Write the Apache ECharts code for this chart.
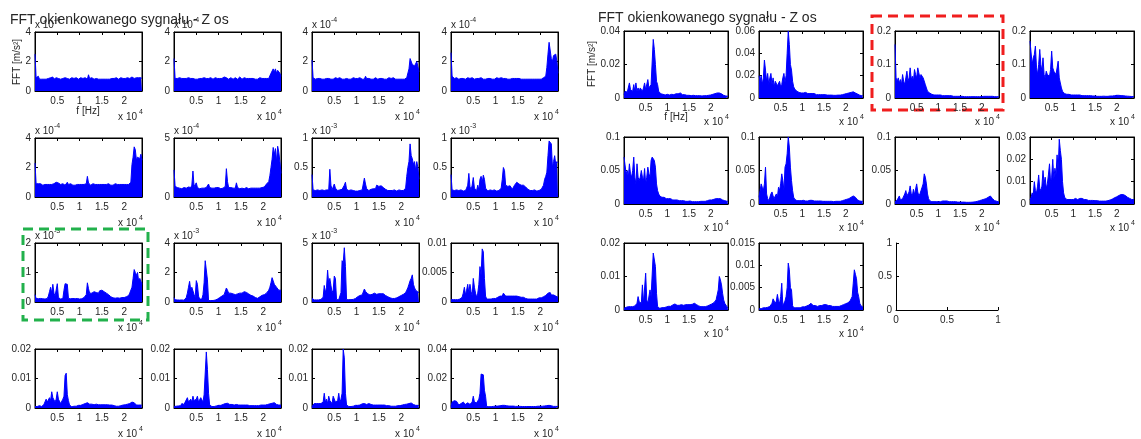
<!DOCTYPE html>
<html><head><meta charset="utf-8">
<script src="https://cdn.jsdelivr.net/npm/echarts@6/dist/echarts.min.js"></script>
<style>html,body{margin:0;padding:0;background:#fff}#c{width:1141px;height:439px}</style>
</head><body><div id="c"></div>
<script>
// ---- sampling grid of every spectrum (Hz) ----
const FREQ_STEP = 250;
const F_MAX = 24000;
const TITLE = 'FFT okienkowanego sygnału - Z os';
const Y_LABEL = 'FFT [m/s²]';
const X_LABEL = 'f [Hz]';

// ---- left figure spectra (values in the units shown on each y axis) ----
const L1 = [2.5,0.9,0.8,1.0,0.8,0.85,0.8,0.9,0.8,0.85,
0.8,0.9,0.85,0.8,0.9,0.85,0.95,0.8,0.85,0.9,
0.8,0.85,0.95,0.8,0.9,0.85,0.8,0.9,0.8,0.85,
0.9,0.8,0.85,0.9,0.8,0.85,0.8,0.9,0.85,0.8,
0.85,0.9,0.8,0.85,0.8,0.9,0.85,0.8,1.1,0.85,
0.8,0.9,0.85,0.8,0.8,0.85,0.9,0.8,0.85,0.8,
0.85,0.8,0.9,0.8,0.85,0.8,0.85,0.8,0.9,0.85,
0.8,0.85,0.8,0.9,0.85,0.8,0.85,0.9,0.8,0.85,
0.9,0.85,0.8,0.9,0.95,0.85,0.9,0.95,0.9,0.85,
0.95,0.9,0.95,0.9,0.95,0.9,0.85];
const L2 = [2.2,0.85,0.8,0.85,0.8,0.9,0.8,0.85,0.8,0.85,
0.8,0.85,0.8,0.9,0.8,0.85,0.8,0.85,0.9,0.8,
0.85,0.8,0.9,0.85,0.8,0.85,0.8,0.9,0.8,0.85,
0.8,0.85,0.8,0.9,0.85,0.8,0.85,0.9,0.8,0.85,
0.9,0.85,0.8,0.85,0.9,0.95,0.85,0.9,0.85,0.8,
0.85,0.9,0.85,0.8,0.85,0.9,0.85,0.8,0.85,0.95,
0.85,0.8,0.85,0.9,0.95,0.85,0.8,0.85,0.8,0.85,
0.8,0.85,0.9,0.8,0.85,0.8,0.85,0.9,0.8,0.85,
0.8,0.85,0.9,0.85,0.8,0.85,0.9,1.2,1.3,1.5,
1.3,1.5,1.2,1.4,1.5,1.2,1.0];
const L3 = [2.1,0.9,0.85,0.8,0.9,0.85,0.8,0.85,0.9,0.8,
0.85,0.8,0.9,0.85,0.8,0.85,0.9,0.8,0.85,0.8,
0.85,0.9,0.8,0.85,0.8,0.9,0.85,0.8,0.85,0.8,
0.8,0.85,0.9,0.8,0.85,0.8,0.85,0.9,0.8,0.85,
0.8,0.85,0.8,0.9,0.85,0.8,0.85,0.8,1.0,0.85,
0.8,0.85,0.9,0.8,0.85,0.8,0.85,0.9,0.85,0.8,
0.9,0.85,0.8,0.85,0.9,0.8,0.85,0.8,0.85,0.9,
0.8,0.85,0.8,0.9,0.85,0.8,0.85,0.8,0.85,0.8,
0.85,0.8,0.85,0.8,0.85,0.9,0.85,1.5,2.2,2.1,
1.8,1.9,1.7,1.8,2.0,2.0,1.3];
const L4 = [2.6,1.0,0.9,0.85,0.8,0.9,0.85,0.8,0.9,0.85,
0.8,0.85,0.9,0.8,0.85,0.9,0.8,0.85,0.8,0.9,
0.85,0.8,0.9,0.85,0.8,0.85,0.8,0.9,0.85,0.8,
0.85,0.8,0.9,0.85,0.8,0.85,0.9,0.8,0.85,0.8,
0.85,0.9,0.8,0.85,0.8,0.9,1.0,0.85,0.8,0.85,
0.9,0.8,0.85,0.8,0.9,0.85,0.8,0.85,0.8,0.85,
0.8,0.85,0.9,0.8,0.85,0.8,0.85,0.8,0.85,0.8,
0.85,0.8,0.85,0.8,0.85,0.8,0.85,0.8,0.85,0.8,
0.85,0.8,0.85,0.9,0.9,1.0,1.6,2.5,3.3,3.2,
2.2,2.0,2.4,2.5,2.5,2.0,1.2];
const L5 = [2.3,0.9,0.85,0.9,0.85,0.9,0.85,0.8,0.9,0.85,
0.9,0.85,0.8,0.85,0.9,0.85,0.8,0.9,0.85,1.0,
1.1,0.95,0.9,0.85,0.8,0.9,0.85,0.8,0.9,1.0,
0.85,0.8,0.9,0.85,0.8,0.85,0.8,0.9,0.85,0.8,
0.85,0.8,0.85,0.8,0.85,0.8,0.9,1.4,0.95,0.85,
0.8,0.85,0.9,0.95,0.85,0.9,0.85,0.9,0.85,0.8,
0.85,0.9,0.85,0.8,0.85,0.8,0.9,0.85,0.8,0.85,
0.8,0.85,0.9,0.8,0.85,0.8,0.85,0.8,0.85,0.8,
0.85,0.8,0.85,0.8,0.85,0.9,1.0,2.2,2.7,3.4,
3.2,2.5,2.7,2.8,2.6,2.9,2.5];
const L6 = [2.3,0.9,0.75,0.8,0.7,0.75,0.8,0.7,0.75,0.8,
0.7,0.75,0.8,0.85,0.75,0.8,1.0,2.2,0.9,0.75,
1.2,0.8,0.75,0.7,0.8,0.75,0.8,0.75,0.7,0.8,
0.75,1.1,0.8,0.7,0.75,0.8,0.75,0.7,0.8,0.75,
0.8,0.75,0.7,0.8,0.75,0.85,0.9,2.4,1.3,0.8,
0.75,0.8,0.7,0.75,0.8,0.75,1.2,0.8,0.75,0.7,
0.8,0.75,0.8,0.7,0.75,0.8,0.75,0.7,0.8,0.75,
0.8,0.75,0.7,0.75,0.8,0.75,0.8,0.75,0.85,0.8,
0.9,0.85,0.9,1.1,1.0,1.3,1.8,2.5,3.2,4.2,
3.6,4.1,3.0,4.3,3.8,3.0,2.0];
const L7 = [0.38,0.12,0.1,0.11,0.1,0.12,0.1,0.11,0.1,0.12,
0.1,0.11,0.1,0.12,0.15,0.12,0.47,0.2,0.12,0.11,
0.22,0.15,0.12,0.11,0.1,0.12,0.11,0.13,0.15,0.2,
0.25,0.13,0.1,0.11,0.1,0.12,0.1,0.11,0.1,0.1,
0.11,0.1,0.12,0.11,0.1,0.12,0.15,0.32,0.22,0.14,
0.12,0.11,0.12,0.13,0.12,0.14,0.15,0.14,0.2,0.17,
0.18,0.2,0.19,0.2,0.16,0.15,0.13,0.12,0.11,0.1,
0.11,0.1,0.11,0.1,0.12,0.11,0.1,0.11,0.12,0.1,
0.11,0.12,0.11,0.12,0.15,0.35,0.5,0.6,0.9,0.7,
0.65,0.55,0.6,0.45,0.6,0.5,0.3];
const L8 = [0.38,0.12,0.15,0.11,0.1,0.12,0.1,0.11,0.1,0.12,
0.11,0.1,0.12,0.11,0.15,0.2,0.4,0.18,0.12,0.2,
0.33,0.15,0.12,0.11,0.2,0.12,0.3,0.35,0.25,0.37,
0.3,0.15,0.12,0.1,0.11,0.12,0.1,0.11,0.1,0.12,
0.11,0.1,0.12,0.11,0.12,0.15,0.3,0.5,0.45,0.2,
0.19,0.18,0.18,0.19,0.18,0.13,0.15,0.2,0.22,0.25,
0.28,0.22,0.25,0.2,0.21,0.2,0.18,0.17,0.15,0.13,
0.12,0.11,0.12,0.11,0.1,0.12,0.11,0.1,0.12,0.11,
0.12,0.13,0.15,0.2,0.3,0.35,0.42,0.7,0.95,0.95,
0.9,0.5,0.6,0.7,0.55,0.6,0.58];
const L9 = [0.25,0.12,0.1,0.11,0.1,0.12,0.1,0.11,0.12,0.1,
0.11,0.12,0.2,0.35,0.5,0.3,0.6,0.3,0.2,0.15,
0.62,0.15,0.12,0.1,0.11,0.12,0.4,0.62,0.6,0.6,
0.12,0.1,0.11,0.1,0.12,0.1,0.11,0.1,0.12,0.11,
0.1,0.12,0.11,0.12,0.15,0.2,0.25,0.65,0.45,0.3,
0.35,0.3,0.33,0.35,0.3,0.32,0.35,0.3,0.38,0.35,
0.4,0.38,0.35,0.3,0.3,0.28,0.25,0.2,0.18,0.15,
0.14,0.15,0.13,0.15,0.14,0.15,0.13,0.14,0.15,0.16,
0.15,0.16,0.18,0.2,0.22,0.3,0.35,0.5,0.8,1.1,
1.0,0.9,1.0,0.7,0.8,0.7,0.6];
const L10 = [0.3,0.15,0.12,0.14,0.12,0.13,0.12,0.14,0.13,0.12,
0.15,0.3,0.6,1.0,1.4,0.8,1.0,1.0,0.5,0.3,
1.45,1.2,0.4,0.2,0.15,0.2,0.5,1.3,2.8,2.7,
1.5,0.1,0.12,0.1,0.12,0.1,0.12,0.13,0.15,0.2,
0.25,0.3,0.35,0.4,0.45,0.5,0.6,0.95,0.8,0.6,
0.55,0.6,0.5,0.55,0.6,0.5,0.6,0.55,0.65,0.6,
0.65,0.6,0.65,0.7,0.6,0.65,0.6,0.55,0.5,0.45,
0.45,0.4,0.35,0.3,0.3,0.25,0.3,0.35,0.4,0.45,
0.45,0.5,0.55,0.6,0.7,0.8,1.0,1.3,1.65,1.6,
1.2,1.1,1.0,0.9,0.8,0.9,0.8];
const L11 = [0.3,0.2,0.18,0.2,0.18,0.2,0.18,0.2,0.22,0.25,
0.4,1.4,0.8,1.2,2.7,1.5,2.0,1.4,0.8,1.0,
2.2,2.0,0.2,0.18,0.2,0.3,0.8,3.5,3.3,4.6,
3.0,0.2,0.18,0.2,0.18,0.2,0.2,0.22,0.25,0.3,
0.4,0.45,0.5,0.55,0.5,0.6,0.7,1.1,0.9,0.85,
0.7,0.65,0.6,0.7,0.65,0.7,0.75,0.7,0.65,0.8,
0.7,0.75,0.7,0.65,0.7,0.6,0.55,0.5,0.45,0.4,
0.35,0.3,0.3,0.28,0.3,0.3,0.35,0.4,0.45,0.5,
0.55,0.6,0.65,0.7,0.8,1.0,1.2,1.5,1.8,2.0,
2.3,1.5,1.2,1.0,0.9,0.85,0.8];
const L12 = [0.0004,0.0003,0.0004,0.0003,0.0004,0.0005,0.0004,0.0006,0.0005,0.0006,
0.0008,0.0015,0.0025,0.0012,0.002,0.003,0.0015,0.003,0.0018,0.001,
0.004,0.0025,0.0015,0.0008,0.0015,0.003,0.006,0.0045,0.009,0.0085,
0.004,0.001,0.0005,0.0004,0.0005,0.0004,0.0005,0.0004,0.0006,0.0005,
0.0006,0.0007,0.0008,0.0009,0.001,0.0009,0.001,0.0015,0.0012,0.001,
0.0009,0.001,0.0011,0.001,0.0009,0.001,0.0011,0.001,0.0009,0.001,
0.001,0.0009,0.001,0.0008,0.0009,0.0008,0.0007,0.0006,0.0005,0.0005,
0.0004,0.0005,0.0004,0.0005,0.0004,0.0005,0.0006,0.0005,0.0006,0.0007,
0.0006,0.0007,0.0008,0.0009,0.001,0.0011,0.0012,0.0015,0.0018,0.0016,
0.0012,0.001,0.0012,0.0009,0.001,0.0008,0.0008];
const L13 = [0.0005,0.0006,0.0005,0.0006,0.0008,0.0006,0.0005,0.001,0.0012,0.0015,
0.003,0.002,0.0025,0.0035,0.0025,0.0055,0.0035,0.004,0.002,0.003,
0.0055,0.003,0.0035,0.0015,0.002,0.003,0.004,0.011,0.0118,0.0045,
0.0025,0.001,0.0005,0.0004,0.0005,0.0006,0.0005,0.0006,0.0008,0.0009,
0.001,0.0009,0.001,0.0012,0.0011,0.0015,0.002,0.0018,0.0015,0.0013,
0.0012,0.0013,0.0012,0.0011,0.0012,0.0013,0.0012,0.0011,0.0012,0.0011,
0.0012,0.0011,0.001,0.0011,0.001,0.0011,0.0012,0.001,0.0011,0.001,
0.0009,0.0008,0.0007,0.0006,0.0007,0.0006,0.0007,0.0008,0.0009,0.001,
0.001,0.0011,0.0012,0.0013,0.0014,0.0015,0.0017,0.002,0.0022,0.0018,
0.0012,0.001,0.0011,0.001,0.0009,0.001,0.0009];
const L14 = [0.0005,0.0008,0.0006,0.0005,0.0007,0.0006,0.0008,0.0015,0.001,0.0012,
0.002,0.0015,0.0035,0.002,0.0015,0.003,0.002,0.004,0.0025,0.002,
0.003,0.004,0.002,0.0015,0.0035,0.004,0.002,0.0045,0.004,0.019,
0.013,0.005,0.001,0.0006,0.0005,0.0006,0.0005,0.0006,0.0007,0.0008,
0.0009,0.001,0.0009,0.0011,0.0012,0.0013,0.0015,0.002,0.0016,0.0013,
0.0012,0.0011,0.0012,0.0011,0.001,0.0011,0.0012,0.0011,0.001,0.0011,
0.001,0.0011,0.001,0.0009,0.001,0.0009,0.001,0.0009,0.0008,0.0009,
0.0008,0.0007,0.0008,0.0007,0.0008,0.0009,0.0008,0.0009,0.001,0.0009,
0.001,0.0011,0.001,0.0011,0.0012,0.0013,0.0014,0.0015,0.0016,0.0017,
0.0018,0.0014,0.0012,0.0011,0.001,0.0011,0.001];
const L15 = [0.0005,0.001,0.0015,0.0012,0.0015,0.001,0.0015,0.0012,0.0015,0.001,
0.002,0.005,0.002,0.003,0.0015,0.004,0.0025,0.002,0.0015,0.004,
0.004,0.002,0.0015,0.0025,0.005,0.002,0.003,0.005,0.02,0.017,
0.005,0.001,0.0006,0.0005,0.0006,0.0005,0.0007,0.0006,0.0008,0.0009,
0.001,0.0009,0.0011,0.001,0.0012,0.0014,0.0018,0.0015,0.0013,0.0012,
0.0013,0.0015,0.0017,0.0012,0.0011,0.001,0.0011,0.001,0.0009,0.001,
0.0011,0.001,0.0009,0.001,0.0009,0.001,0.0009,0.0008,0.0009,0.0008,
0.0007,0.0006,0.0007,0.0006,0.0007,0.0006,0.0007,0.0008,0.0009,0.0008,
0.0009,0.001,0.0011,0.0012,0.0011,0.0013,0.0014,0.0015,0.0016,0.0017,
0.0014,0.0012,0.001,0.0009,0.0008,0.0009,0.0008];
const L16 = [0.001,0.004,0.003,0.005,0.006,0.0045,0.0035,0.002,0.0025,0.003,
0.0035,0.004,0.003,0.0025,0.003,0.0035,0.003,0.0025,0.003,0.004,
0.008,0.004,0.003,0.0035,0.004,0.006,0.01,0.023,0.023,0.0225,
0.012,0.008,0.001,0.0008,0.0009,0.001,0.0009,0.001,0.0011,0.0012,
0.0013,0.0012,0.0013,0.0014,0.0015,0.0016,0.0018,0.002,0.0018,0.0016,
0.0015,0.0014,0.0013,0.0012,0.0013,0.0012,0.0013,0.0012,0.0011,0.0012,
0.0011,0.0012,0.0011,0.0012,0.001,0.0011,0.001,0.0011,0.001,0.0009,
0.001,0.0009,0.001,0.0009,0.001,0.0011,0.001,0.0011,0.0012,0.0011,
0.0012,0.0013,0.0012,0.0013,0.0014,0.0015,0.0016,0.0017,0.0018,0.0018,
0.0015,0.0012,0.0011,0.001,0.0011,0.001,0.001];

// ---- right figure spectra ----
const R1 = [0.002,0.004,0.003,0.0035,0.004,0.009,0.005,0.006,0.004,0.008,
0.004,0.009,0.004,0.006,0.004,0.006,0.005,0.004,0.006,0.009,
0.005,0.006,0.011,0.006,0.005,0.008,0.009,0.035,0.029,0.02,
0.01,0.008,0.004,0.003,0.0025,0.002,0.0022,0.002,0.0018,0.002,
0.0022,0.002,0.0018,0.002,0.0022,0.0018,0.002,0.0022,0.0025,0.0022,
0.0025,0.0028,0.003,0.0025,0.002,0.0022,0.002,0.0018,0.0016,0.0015,
0.0016,0.0015,0.0014,0.0015,0.0016,0.0015,0.0014,0.0015,0.0014,0.0013,
0.0014,0.0013,0.0012,0.0013,0.0014,0.0013,0.0014,0.0015,0.0016,0.0017,
0.0018,0.002,0.0022,0.0024,0.0026,0.0028,0.003,0.0032,0.003,0.0028,
0.0025,0.002,0.0016,0.0014,0.0012,0.0011,0.001];
const R2 = [0.02,0.015,0.02,0.012,0.018,0.034,0.025,0.015,0.022,0.012,
0.018,0.022,0.012,0.018,0.01,0.015,0.016,0.011,0.012,0.015,
0.01,0.012,0.018,0.022,0.014,0.02,0.04,0.06,0.048,0.03,
0.025,0.015,0.01,0.008,0.007,0.006,0.006,0.005,0.005,0.0045,
0.005,0.0045,0.004,0.005,0.0045,0.004,0.0045,0.004,0.0035,0.004,
0.0035,0.004,0.0035,0.003,0.0035,0.003,0.0035,0.003,0.0028,0.003,
0.0028,0.003,0.0028,0.0026,0.0028,0.0026,0.0025,0.0026,0.0025,0.0024,
0.0025,0.0024,0.0025,0.0026,0.0025,0.0026,0.0028,0.003,0.0032,0.0035,
0.0038,0.004,0.0042,0.0045,0.0048,0.005,0.0052,0.0055,0.005,0.0045,
0.004,0.0035,0.003,0.0025,0.0022,0.002,0.002];
const R3 = [0.16,0.06,0.05,0.06,0.045,0.055,0.04,0.07,0.05,0.04,
0.06,0.08,0.05,0.06,0.09,0.055,0.065,0.05,0.085,0.07,
0.06,0.09,0.075,0.06,0.07,0.065,0.06,0.055,0.04,0.03,
0.02,0.018,0.015,0.012,0.011,0.01,0.009,0.01,0.009,0.008,
0.009,0.008,0.009,0.008,0.007,0.008,0.007,0.008,0.007,0.006,
0.007,0.006,0.007,0.006,0.005,0.006,0.005,0.006,0.005,0.005,
0.005,0.0045,0.005,0.0045,0.004,0.0045,0.004,0.0045,0.004,0.004,
0.004,0.0035,0.004,0.0035,0.004,0.0035,0.004,0.0045,0.004,0.0045,
0.004,0.0045,0.005,0.0045,0.005,0.0055,0.005,0.0055,0.005,0.0045,
0.005,0.0045,0.004,0.0045,0.004,0.0035,0.0035];
const R4 = [0.17,0.165,0.1,0.12,0.13,0.155,0.09,0.07,0.1,0.145,
0.1,0.08,0.12,0.07,0.06,0.08,0.07,0.075,0.065,0.085,
0.14,0.09,0.08,0.085,0.07,0.09,0.11,0.06,0.045,0.03,
0.02,0.015,0.013,0.012,0.011,0.01,0.011,0.01,0.009,0.01,
0.009,0.01,0.009,0.008,0.009,0.008,0.009,0.008,0.007,0.008,
0.007,0.008,0.007,0.006,0.007,0.006,0.007,0.006,0.006,0.0055,
0.006,0.0055,0.005,0.0055,0.005,0.0055,0.005,0.005,0.0055,0.005,
0.005,0.0055,0.005,0.0055,0.006,0.0055,0.006,0.0065,0.007,0.0075,
0.008,0.0075,0.008,0.0075,0.007,0.0075,0.007,0.0065,0.006,0.006,
0.0055,0.005,0.005,0.0045,0.0045,0.004,0.004];
const R5 = [0.07,0.072,0.045,0.05,0.04,0.06,0.045,0.04,0.05,0.07,
0.04,0.03,0.06,0.04,0.035,0.04,0.05,0.04,0.035,0.053,
0.03,0.04,0.055,0.045,0.04,0.065,0.07,0.068,0.065,0.055,
0.03,0.02,0.015,0.012,0.011,0.01,0.009,0.01,0.009,0.008,
0.009,0.008,0.007,0.008,0.007,0.006,0.007,0.006,0.0055,0.006,
0.0055,0.005,0.0055,0.005,0.0045,0.005,0.0045,0.004,0.0045,0.004,
0.004,0.0045,0.004,0.0035,0.004,0.0035,0.004,0.0035,0.004,0.0035,
0.0035,0.004,0.0035,0.004,0.0045,0.004,0.0045,0.005,0.0055,0.006,
0.0065,0.006,0.0065,0.007,0.0075,0.008,0.0085,0.008,0.009,0.008,
0.007,0.006,0.0055,0.005,0.0045,0.004,0.004];
const R6 = [0.01,0.02,0.03,0.025,0.02,0.03,0.055,0.015,0.008,0.005,
0.01,0.015,0.018,0.012,0.008,0.012,0.015,0.01,0.025,0.02,
0.03,0.045,0.035,0.02,0.055,0.06,0.075,0.1,0.085,0.055,
0.035,0.02,0.01,0.007,0.006,0.005,0.006,0.005,0.0055,0.005,
0.005,0.0055,0.005,0.0045,0.005,0.0045,0.005,0.0055,0.006,0.0055,
0.005,0.0045,0.005,0.0045,0.004,0.0045,0.004,0.0045,0.004,0.004,
0.0045,0.004,0.0045,0.004,0.0035,0.004,0.0035,0.004,0.0035,0.0035,
0.0035,0.004,0.0035,0.004,0.0035,0.004,0.0045,0.005,0.0055,0.006,
0.0065,0.007,0.0075,0.008,0.009,0.01,0.011,0.012,0.012,0.01,
0.008,0.006,0.005,0.0045,0.004,0.004,0.004];
const R7 = [0.003,0.004,0.006,0.005,0.012,0.006,0.005,0.008,0.01,0.015,
0.02,0.012,0.01,0.018,0.027,0.015,0.012,0.022,0.014,0.015,
0.03,0.018,0.012,0.015,0.02,0.025,0.03,0.045,0.04,0.03,
0.015,0.008,0.005,0.004,0.0035,0.004,0.0035,0.004,0.0035,0.003,
0.0035,0.003,0.0035,0.004,0.0045,0.004,0.0045,0.005,0.0045,0.004,
0.0035,0.003,0.0035,0.003,0.0035,0.003,0.0035,0.003,0.0028,0.003,
0.0028,0.003,0.0028,0.0026,0.0028,0.0026,0.0025,0.0026,0.0025,0.0025,
0.0026,0.0025,0.0028,0.003,0.0032,0.0035,0.004,0.0045,0.005,0.0055,
0.006,0.0065,0.007,0.0075,0.008,0.009,0.01,0.011,0.012,0.01,
0.008,0.006,0.005,0.0045,0.004,0.0035,0.003];
const R8 = [0.002,0.003,0.005,0.004,0.01,0.006,0.005,0.008,0.013,0.007,
0.006,0.008,0.015,0.009,0.012,0.007,0.009,0.013,0.018,0.01,
0.012,0.02,0.011,0.016,0.013,0.022,0.015,0.029,0.024,0.02,
0.01,0.005,0.003,0.0025,0.002,0.0025,0.002,0.0022,0.002,0.0018,
0.002,0.0022,0.0025,0.0022,0.002,0.0022,0.0025,0.003,0.0025,0.0022,
0.002,0.0018,0.002,0.0018,0.0016,0.0018,0.0016,0.0015,0.0016,0.0015,
0.0015,0.0014,0.0015,0.0014,0.0013,0.0014,0.0013,0.0014,0.0013,0.0013,
0.0013,0.0014,0.0015,0.0016,0.0018,0.002,0.0022,0.0025,0.0028,0.003,
0.0032,0.0035,0.0038,0.004,0.0042,0.0045,0.0042,0.004,0.0038,0.0035,
0.003,0.0028,0.0025,0.0022,0.002,0.002,0.002];
const R9 = [0.0005,0.0006,0.0008,0.0007,0.001,0.0015,0.001,0.0008,0.001,0.0009,
0.0012,0.0015,0.002,0.004,0.0025,0.003,0.002,0.0075,0.002,0.0015,
0.011,0.003,0.002,0.0025,0.006,0.004,0.0045,0.017,0.0175,0.013,
0.005,0.001,0.0006,0.0005,0.0006,0.0007,0.0006,0.0007,0.0008,0.0009,
0.001,0.0011,0.0012,0.0011,0.0013,0.0015,0.002,0.0018,0.0015,0.0014,
0.0015,0.0014,0.0015,0.0016,0.0015,0.0014,0.0015,0.0016,0.0015,0.0016,
0.0017,0.0016,0.0018,0.0017,0.0018,0.002,0.0018,0.0016,0.0014,0.0012,
0.0011,0.001,0.0009,0.001,0.0009,0.001,0.0011,0.0012,0.0013,0.0015,
0.0016,0.0018,0.002,0.0022,0.0025,0.003,0.0045,0.006,0.01,0.009,
0.0075,0.005,0.003,0.002,0.0015,0.001,0.0005];
const R10 = [0.0003,0.0004,0.0003,0.0004,0.0005,0.0004,0.0005,0.0004,0.0006,0.0005,
0.0008,0.001,0.0015,0.0025,0.002,0.0015,0.002,0.0035,0.002,0.0015,
0.003,0.006,0.001,0.0015,0.002,0.003,0.005,0.0105,0.009,0.005,
0.0045,0.001,0.0005,0.0004,0.0005,0.0004,0.0005,0.0006,0.0005,0.0006,
0.0007,0.0008,0.0007,0.0008,0.0009,0.001,0.0011,0.0012,0.0015,0.0012,
0.001,0.0009,0.001,0.0009,0.0008,0.0009,0.001,0.0011,0.001,0.0011,
0.0012,0.0011,0.0012,0.0011,0.001,0.0011,0.001,0.0009,0.0008,0.0009,
0.0008,0.0007,0.0008,0.0007,0.0008,0.0009,0.001,0.0011,0.0012,0.0013,
0.0014,0.0015,0.0016,0.0018,0.002,0.0025,0.003,0.006,0.009,0.008,
0.007,0.004,0.003,0.0015,0.001,0.0008,0.0006];

// y-axis ranges (max, tick step) and the "x 10^n" multiplier printed above each axes
const Y_MAX  = [4,4,4,4, 4,5,1,1, 2,4,5,0.01, 0.02,0.02,0.02,0.04,
                0.04,0.06,0.2,0.2, 0.1,0.1,0.1,0.03, 0.02,0.015];
const Y_STEP = [2,2,2,2, 2,5,0.5,0.5, 1,2,5,0.005, 0.01,0.01,0.01,0.02,
                0.02,0.02,0.1,0.1, 0.05,0.05,0.05,0.01, 0.01,0.005];
const Y_EXP  = ['-4','-4','-4','-4', '-4','-4','-3','-3', '-3','-3','-3','', '','','','',
                '','','','', '','','','', '',''];
const SERIES = [L1,L2,L3,L4,L5,L6,L7,L8,L9,L10,L11,L12,L13,L14,L15,L16,
                R1,R2,R3,R4,R5,R6,R7,R8,R9,R10];

// ---- layout ----
const FIGS = [
  {lefts:[35,174,312,451], w:107, tops:[32,138,243,349], h:59, n:16, expBelow:26},
  {lefts:[624,759,895,1030], w:104, tops:[31,137,243], h:67, n:10, expBelow:24}
];
const FONT = 'Liberation Sans, Arial, Helvetica, sans-serif';
const TXT = '#262626';
const fmt = v => String(parseFloat(Number(v).toPrecision(6)));

const grids = [], xAxes = [], yAxes = [], series = [], graphics = [];
const tickStyle = {inside:true, length:3, lineStyle:{color:'#000', width:1}};
const lineStyle = {show:true, onZero:false, lineStyle:{color:'#000', width:1}};

function txt(x, y, text, size, align, valign, extra) {
  graphics.push(Object.assign({type:'text', x:x, y:y, silent:true,
    style:{text:text, fontSize:size, fontFamily:FONT, fill:TXT, align:align, verticalAlign:valign}}, extra || {}));
}

let p = 0;
FIGS.forEach((fig, fi) => {
  for (let k = 0; k < fig.n; k++, p++) {
    const r = Math.floor(k / 4), c = k % 4;
    const left = fig.lefts[c], top = fig.tops[r], w = fig.w, h = fig.h;
    const gi = grids.length;
    grids.push({left:left, top:top, width:w, height:h, show:true, borderColor:'#000', borderWidth:1,
      backgroundColor:'#fff', containLabel:false, outerBoundsMode:'none'});
    const xBase = {gridIndex:gi, type:'value', min:0, max:F_MAX, interval:5000, splitLine:{show:false},
      axisLine:lineStyle, axisTick:tickStyle};
    xAxes.push(Object.assign({}, xBase, {position:'bottom',
      axisLabel:{fontSize:10, fontFamily:FONT, color:TXT, margin:5,
        formatter: v => (v > 0 && v < F_MAX) ? fmt(v / 10000) : ''}}));
    xAxes.push(Object.assign({}, xBase, {position:'top', axisLabel:{show:false}}));
    const yBase = {gridIndex:gi, type:'value', min:0, max:Y_MAX[p], interval:Y_STEP[p], splitLine:{show:false},
      axisLine:lineStyle, axisTick:tickStyle};
    yAxes.push(Object.assign({}, yBase, {position:'left',
      axisLabel:{fontSize:10, fontFamily:FONT, color:TXT, margin:4, formatter: fmt}}));
    yAxes.push(Object.assign({}, yBase, {position:'right', axisLabel:{show:false}}));
    series.push({type:'line', xAxisIndex:2*gi, yAxisIndex:2*gi, symbol:'none', silent:true, animation:false,
      data: SERIES[p].map((v, i) => [i * FREQ_STEP, v]),
      lineStyle:{color:'#0000ff', width:1}, areaStyle:{color:'#0000ff', opacity:1}});
    // x 10^4 under the axes
    txt(left + w - 5, top + h + fig.expBelow, 'x 10', 10, 'right', 'middle');
    txt(left + w + 1, top + h + fig.expBelow - 5, '4', 7, 'right', 'middle');
    // y multiplier above the axes
    if (Y_EXP[p]) {
      txt(left, top - 7, 'x 10', 10, 'left', 'middle');
      txt(left + 19, top - 12, Y_EXP[p], 7, 'left', 'middle');
    }
  }
});

// empty 11th axes of the right figure
{
  const gi = grids.length;
  grids.push({left:896, top:243, width:102, height:67, show:false, containLabel:false, outerBoundsMode:'none'});
  const base = {gridIndex:gi, type:'value', min:0, max:1, interval:0.5, splitLine:{show:false},
    axisLine:lineStyle, axisTick:tickStyle};
  xAxes.push(Object.assign({}, base, {position:'bottom', axisLabel:{fontSize:10, fontFamily:FONT, color:TXT, margin:5, formatter:fmt}}));
  yAxes.push(Object.assign({}, base, {position:'left', axisLabel:{fontSize:10, fontFamily:FONT, color:TXT, margin:4, formatter:fmt}}));
}

// titles and axis names
txt(10, 20, TITLE, 14, 'left', 'middle');
txt(598, 18, TITLE, 14, 'left', 'middle');
txt(17, 62, Y_LABEL, 10, 'center', 'middle', {rotation: Math.PI / 2});
txt(592, 64, Y_LABEL, 10, 'center', 'middle', {rotation: Math.PI / 2});
txt(88, 111, X_LABEL, 10, 'center', 'middle');
txt(676, 117, X_LABEL, 10, 'center', 'middle');

// highlight frames
graphics.push({type:'rect', silent:true, shape:{x:23, y:229, width:125, height:91},
  style:{fill:'none', stroke:'#22b14c', lineWidth:3, lineDash:[10,6]}});
graphics.push({type:'rect', silent:true, shape:{x:872, y:16, width:131, height:94},
  style:{fill:'none', stroke:'#f01e1e', lineWidth:3, lineDash:[10,6]}});

const chart = echarts.init(document.getElementById('c'), null, {renderer:'canvas'});
chart.setOption({
  backgroundColor:'#fff', animation:false,
  textStyle:{fontFamily:FONT},
  grid:grids, xAxis:xAxes, yAxis:yAxes, series:series,
  graphic:{elements:graphics}
});
</script>
</body></html>
